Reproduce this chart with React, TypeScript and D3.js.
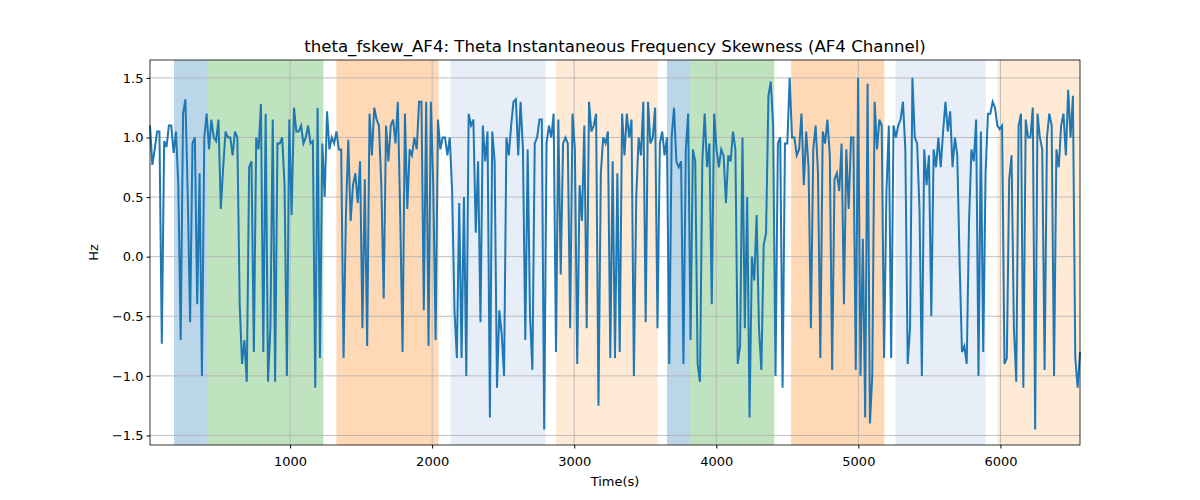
import { useEffect, useRef } from "react";
import * as d3 from "d3";

const xStart = 14;
const xEnd = 6560;

const values = [
  1.1, 0.77, 0.9, 1.05, 1.05, -0.73, 0.97, 0.92, 1.1, 1.1, 0.87, 1.05, 0.6, -0.7, 1.2, 1.32, 0.5, -0.55, 0.95, 1.0, -0.4, 0.7, -1.0, 1.0, 1.2, 0.9, 1.15, 1.0, 0.97, 1.15, 0.4, 0.75, 1.05, 1.0, 1.0, 0.85, 1.05, 1.0, -0.4, -0.9, -0.7, -1.05, 0.75, 0.8, -0.8, 1.0, 0.9, 1.28, -0.8, 1.2, -1.05, -0.6, 1.15, -1.05, 0.95, 0.95, 1.0, 0.6, -1.0, 1.15, 0.35, 1.25, 1.05, 1.05, 1.1, 0.95,
  1.0, 1.1, 0.95, 0.97, -1.1, 1.25, -0.85, 0.95, 0.5, 1.22, 0.9, 1.0, 0.95, 1.05, 0.9, 0.9, -0.85, 0.35, 0.98, 0.3, 0.6, 0.7, 0.45, 0.8, -0.6, 0.65, -0.75, 1.2, 0.85, 1.25, 1.15, 1.1, 0.6, -0.35, 1.1, 0.8, 1.1, 1.15, 0.95, 1.3, 0.35, -0.8, 1.2, 0.4, 0.9, 0.85, 1.0, 0.9, 1.3, 1.3, -0.45, 1.3, -0.75, 1.3, 0.6, -0.7, 1.15, 0.9, 1.0, 1.0, 0.85, 1.0, 0.55, -0.45, -0.85, 0.45,
  -0.85, 0.5, -1.0, 1.2, 1.1, 1.15, 0.2, 0.8, -0.55, 1.1, 0.8, 1.05, -1.35, 1.05, 0.8, -1.1, -0.45, -0.65, -1.0, 1.0, 0.85, 1.1, 1.3, 1.32, 0.85, 1.3, 0.9, -0.7, 0.9, -0.5, -0.95, 0.95, 1.0, 1.15, 1.15, -1.45, 0.95, 1.1, 1.0, 1.2, -0.8, 1.15, -0.15, 0.95, 1.0, 0.95, -0.6, 1.2, 0.9, -0.9, 0.6, 0.3, 1.1, -0.6, 1.3, 1.05, 1.1, 1.2, -1.25, 0.7, 1.0, 0.95, 1.05, -0.85,
  0.8, -0.85, 0.7, -0.8, 1.2, 0.85, 1.2, 1.0, 1.15, -1.0, 0.5, 1.0, 0.85, 1.3, -0.55, 1.3, 0.95, 1.0, 1.25, -0.6, 0.95, 1.05, 0.85, 1.0, -0.9, 1.0, 1.25, 0.8, 0.75, 0.8, -0.9, 0.9, 1.2, -0.7, 0.9, 0.8, -0.9, -1.05, 0.8, 1.2, 0.75, 0.95, -0.4, 1.2, 0.9, 0.75, 0.9, 0.85, 0.45, 0.85, 0.8, 1.05, 0.9, -0.9, -0.75, 1.0, -0.6, 0.5, -1.35, 0.0, -0.2, 0.35, -0.6, -0.95, 0.1, 0.2, 1.35, 1.47, 1.1, -1.0,
  0.95, 1.0, -1.1, 0.95, 0.95, 1.5, 1.0, 1.0, 0.85, 0.9, 1.2, 0.6, 1.05, 0.75, -0.6, 0.9, 1.1, 0.7, -0.85, 1.05, 0.95, 1.15, 0.85, -0.95, 0.65, 0.7, 0.55, 0.95, -0.4, 0.9, 0.4, 1.0, 1.0, -0.95, 1.5, -1.0, 0.15, -1.35, 1.45, -1.4, -1.0, 1.3, 0.9, 1.15, 1.1, -0.85, 0.55, 1.1, -0.85, 1.1, 1.0, 1.1, 1.15, 1.3, 0.9, -0.9, -0.6, 1.5, 1.0, 0.95, 0.4, -1.0, 0.9, 0.6, 0.85, -0.5, 0.9,
  0.75, 1.0, 0.75, 1.05, 1.3, 1.05, 1.22, 0.75, 1.0, 0.85, -0.05, -0.8, -0.75, -0.9, 0.3, 0.9, 0.8, 1.15, -1.0, 1.05, -0.8, 0.7, 1.2, 1.2, 1.3, 1.25, 1.1, 1.07, 1.1, -0.9, -0.85, 0.65, 0.85, -0.6, -1.05, 1.1, 1.2, -1.1, 1.15, 1.0, 1.0, 1.25, -1.45, 1.2, 1.0, 0.9, -0.95, 1.0, 1.2, 1.1, -1.0, 0.9, 0.75, 1.1, 1.2, 0.85, 1.4, 1.0, 1.35, -0.85, -1.1, -0.8,
];

const spanStarts = [183, 416, 1326, 2130, 2870, 3653, 3815, 4527, 5261, 5980];
const spanEnds = [416, 1234, 2045, 2800, 3590, 3815, 4408, 5183, 5896, 6600];
const spanColors = ["#1f77b4", "#2ca02c", "#ff7f0e", "#aec7e8", "#ffbb78", "#1f77b4", "#2ca02c", "#ff7f0e", "#aec7e8", "#ffbb78"];

const xTicks = [1000, 2000, 3000, 4000, 5000, 6000];
const yTicks = [-1.5, -1.0, -0.5, 0.0, 0.5, 1.0, 1.5];

export default function App() {
  const svgRef = useRef<SVGSVGElement | null>(null);

  useEffect(() => {
    const width = 1200;
    const height = 500;
    const margin = { top: 60, right: 120, bottom: 55, left: 150 };
    const svg = d3.select(svgRef.current).attr("width", width).attr("height", height);
    svg.selectAll("*").remove();
    svg.append("rect").attr("width", width).attr("height", height).attr("fill", "white");

    const x = d3.scaleLinear().domain([xStart, xEnd]).range([margin.left, width - margin.right]);
    const y = d3.scaleLinear().domain([-1.58, 1.65]).range([height - margin.bottom, margin.top]);
    const step = (xEnd - xStart) / (values.length - 1);
    const pts: [number, number][] = values.map((v, i) => [xStart + i * step, v]);

    const g = svg.append("g");
    g.selectAll("rect.span")
      .data(spanStarts)
      .join("rect")
      .attr("x", (d) => x(d))
      .attr("width", (d, i) => x(Math.min(spanEnds[i], xEnd)) - x(d))
      .attr("y", margin.top)
      .attr("height", height - margin.bottom - margin.top)
      .attr("fill", (_, i) => spanColors[i])
      .attr("fill-opacity", 0.3);

    const font = "DejaVu Sans, sans-serif";
    const xAxis = g.append("g").attr("transform", `translate(0,${height - margin.bottom})`)
      .call(d3.axisBottom(x).tickValues(xTicks).tickFormat(d3.format("d")).tickSizeOuter(0).tickSize(3.5));
    const yAxis = g.append("g").attr("transform", `translate(${margin.left},0)`)
      .call(d3.axisLeft(y).tickValues(yTicks).tickFormat(d3.format(".1f")).tickSizeOuter(0).tickSize(3.5));
    for (const ax of [xAxis, yAxis]) {
      ax.selectAll("text").attr("font-family", font).attr("font-size", 13).attr("fill", "#000");
      ax.select(".domain").remove();
    }
    xAxis.selectAll("text").attr("dy", "1.1em");

    g.selectAll("line.gx").data(xTicks).join("line")
      .attr("x1", (d) => x(d)).attr("x2", (d) => x(d))
      .attr("y1", margin.top).attr("y2", height - margin.bottom)
      .attr("stroke", "#b0b0b0").attr("stroke-width", 0.8);
    g.selectAll("line.gy").data(yTicks).join("line")
      .attr("x1", margin.left).attr("x2", width - margin.right)
      .attr("y1", (d) => y(d)).attr("y2", (d) => y(d))
      .attr("stroke", "#b0b0b0").attr("stroke-width", 0.8);

    g.append("path").datum(pts)
      .attr("d", d3.line<[number, number]>().x((d) => x(d[0])).y((d) => y(d[1])))
      .attr("fill", "none").attr("stroke", "#1f77b4").attr("stroke-width", 2);

    g.append("rect").attr("x", margin.left).attr("y", margin.top)
      .attr("width", width - margin.left - margin.right).attr("height", height - margin.top - margin.bottom)
      .attr("fill", "none").attr("stroke", "#000").attr("stroke-width", 0.8);

    svg.append("text").attr("x", (margin.left + width - margin.right) / 2).attr("y", 52)
      .attr("text-anchor", "middle").attr("font-family", font).attr("font-size", 16.6)
      .text("theta_fskew_AF4: Theta Instantaneous Frequency Skewness (AF4 Channel)");
    svg.append("text").attr("x", (margin.left + width - margin.right) / 2).attr("y", 486)
      .attr("text-anchor", "middle").attr("font-family", font).attr("font-size", 13).text("Time(s)");
    svg.append("text").attr("transform", `translate(98,${(margin.top + height - margin.bottom) / 2}) rotate(-90)`)
      .attr("text-anchor", "middle").attr("font-family", font).attr("font-size", 13).text("Hz");
  }, []);

  return <svg ref={svgRef} style={{ display: "block", margin: "-8px" }}></svg>;
}
